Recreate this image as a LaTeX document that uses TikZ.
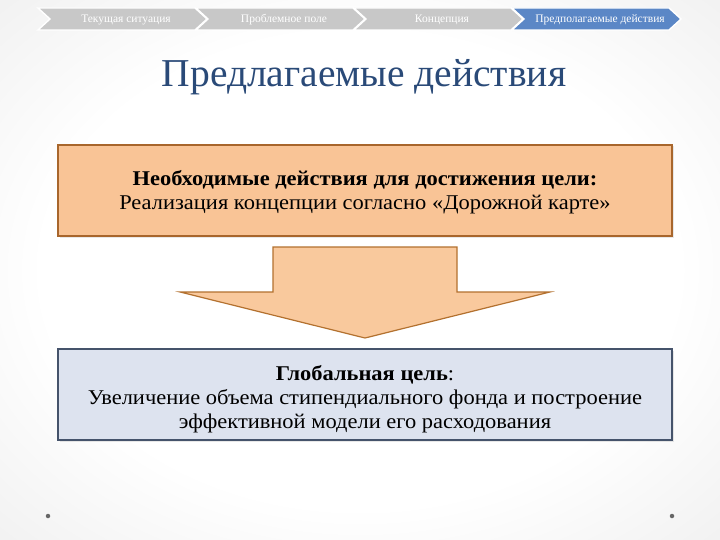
\documentclass[tikz,border=0pt]{standalone}
\usepackage{fontspec}
\setmainfont{Liberation Serif}
\newfontfamily\boxfont[FakeStretch=1.07]{Liberation Serif}
\usetikzlibrary{shadows}
\definecolor{chevgray}{HTML}{C8C8C8}
\definecolor{chevblue}{HTML}{5B87C6}
\definecolor{titleblue}{HTML}{2A4A78}
\definecolor{boxorange}{HTML}{F9C496}
\definecolor{boxbrown}{HTML}{A8662C}
\definecolor{arroworange}{HTML}{F9C99D}
\definecolor{arrowbrown}{HTML}{B3712F}
\definecolor{boxblue}{HTML}{DDE3EF}
\definecolor{boxslate}{HTML}{45536B}
\definecolor{dotgray}{HTML}{666666}
\pgfdeclareradialshading{bgshade}{\pgfpoint{0bp}{0bp}}{color(0bp)=(white); color(22bp)=(white); color(50bp)=(black!11); color(71bp)=(black!22)}
\tikzset{
  chevron/.style={draw=white, line width=1.4pt},
  chevtext/.style={text=white, font=\fontsize{11.5}{12}\selectfont, inner sep=0pt, anchor=base},
  mainbox/.style={minimum width=614pt, minimum height=91pt, line width=1.6pt, inner sep=0pt,
    drop shadow={opacity=0.18, shadow xshift=1.5pt, shadow yshift=-1.5pt}},
  boxtext/.style={align=center, inner sep=0pt, font=\boxfont\fontsize{21}{24}\selectfont},
  blockarrow/.style={fill=arroworange, draw=arrowbrown, line width=1.2pt, line join=miter},
  dot/.style={circle, fill=dotgray, inner sep=0pt, minimum size=4.5pt}
}
\begin{document}
\begin{tikzpicture}[x=1pt,y=-1pt]
\useasboundingbox (0,0) rectangle (720,540);
\shade[shading=bgshade] (0,0) rectangle (720,540);
% breadcrumb chevrons
\foreach \x/\lab/\col/\n in {38/Текущая ситуация/chevgray/c1, 196/Проблемное поле/chevgray/c2, 354/Концепция/chevgray/c3, 512/Предполагаемые действия/chevblue/c4}{
  \path[chevron, fill=\col] (\x,8) -- (\x+157,8) -- (\x+169,19) -- (\x+157,30) -- (\x,30) -- (\x+12,19) -- cycle;
  \node[chevtext] (\n) at (\x+88,23) {\lab};
}
% title
\node[text=titleblue, font=\fontsize{39.5}{42}\selectfont, inner sep=0pt] (title) at (364,77) {Предлагаемые действия};
% boxes
\node[mainbox, fill=boxorange, draw=boxbrown] (box1) at (365,190.5) {};
\node[boxtext] (box1text) at (365,192)
  {\textbf{Необходимые действия для достижения цели:}\\Реализация концепции согласно «Дорожной карте»};
\node[mainbox, fill=boxblue, draw=boxslate] (box2) at (365,394.5) {};
\node[boxtext] (box2text) at (365,399.5)
  {\textbf{Глобальная цель}:\\Увеличение объема стипендиального фонда и построение\\эффективной модели его расходования};
% block arrow
\path[blockarrow] (273,247) -- (457,247) -- (457,292) -- (550,292) -- (365,338) -- (180,292) -- (273,292) -- cycle;
% dots
\node[dot] (d1) at (48,516) {};
\node[dot] (d2) at (672,516) {};
\end{tikzpicture}
\end{document}
